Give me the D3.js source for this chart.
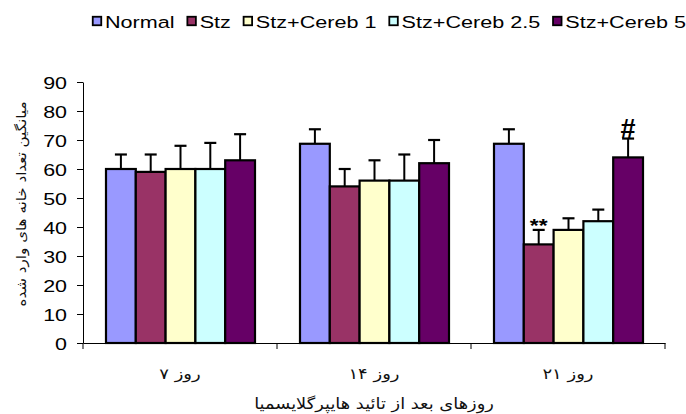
<!DOCTYPE html>
<html>
<head>
<meta charset="utf-8">
<script src="https://cdn.jsdelivr.net/npm/d3@7"></script>
<style>
  body { margin: 0; background: #fff; }
  svg { display: block; }
</style>
</head>
<body>
<div id="chart"></div>
<script>
// Data
const days = ["روز ۷", "روز ۱۴", "روز ۲۱"];
const groups = ["Normal", "Stz", "Stz+Cereb 1", "Stz+Cereb 2.5", "Stz+Cereb 5"];
const colors = ["#9999FF", "#993366", "#FFFFCC", "#CCFFFF", "#660066"];
const means = [
  [60, 59, 60, 60, 63],
  [68.7, 54, 56, 56, 62],
  [68.7, 34, 39, 42, 64]
];
const errors = [
  [5, 6, 8, 9, 9],
  [5, 6, 7, 9, 8],
  [5, 5, 4, 4, 6.5]
];
const marks = [
  { day: 2, group: 1, text: "**" },
  { day: 2, group: 4, text: "#" }
];
const yTicks = [0, 10, 20, 30, 40, 50, 60, 70, 80, 90];

const W = 686, H = 414;
const stretch = 1.3; // text in the picture is stretched sideways

const svg = d3.select("#chart")
  .append("svg")
    .attr("width", W)
    .attr("height", H);

// Scales
const x0 = d3.scaleBand()
  .domain(days)
  .range([83, 665]);
const x1 = d3.scaleBand()
  .domain(groups)
  .range([23, 172]);
const y = d3.scaleLinear()
  .domain([0, 90])
  .range([343, 82]);

// Helper for stretched text
function stretchedText(sel, tx, ty, sx) {
  return sel.attr("transform", `translate(${tx},${ty}) scale(${sx},1)`);
}

// Bars
const data = [];
days.forEach((d, i) => groups.forEach((g, j) => {
  data.push({ day: d, group: g, value: means[i][j], err: errors[i][j], color: colors[j] });
}));

const bars = svg.append("g")
  .selectAll("g")
  .data(data)
  .join("g")
    .attr("transform", d => `translate(${x0(d.day) + x1(d.group)},0)`);

bars.append("rect")
  .attr("x", 0)
  .attr("y", d => y(d.value))
  .attr("width", x1.bandwidth())
  .attr("height", d => y(0) - y(d.value))
  .attr("fill", d => d.color)
  .attr("stroke", "#000")
  .attr("stroke-width", 2.2);

// Error bars (upper only)
bars.append("line")
  .attr("x1", x1.bandwidth() / 2)
  .attr("x2", x1.bandwidth() / 2)
  .attr("y1", d => y(d.value))
  .attr("y2", d => y(d.value + d.err))
  .attr("stroke", "#000")
  .attr("stroke-width", 2);
bars.append("line")
  .attr("x1", x1.bandwidth() / 2 - 6)
  .attr("x2", x1.bandwidth() / 2 + 6)
  .attr("y1", d => y(d.value + d.err))
  .attr("y2", d => y(d.value + d.err))
  .attr("stroke", "#000")
  .attr("stroke-width", 2.2);

// Significance marks
marks.forEach(m => {
  const d = data[m.day * groups.length + m.group];
  const cx = x0(d.day) + x1(d.group) + x1.bandwidth() / 2;
  const isHash = m.text === "#";
  svg.append("text")
    .text(m.text)
    .attr("text-anchor", "middle")
    .style("font-family", "'Liberation Sans', Arial, sans-serif")
    .style("font-weight", "bold")
    .style("font-size", isHash ? "27px" : "19px")
    .call(stretchedText, cx, isHash ? y(d.value + d.err) - 1 : y(d.value + d.err) + 2, isHash ? 1.0 : 1.2);
});

// Y axis
const yAxis = svg.append("g")
  .attr("transform", "translate(83,0)")
  .call(d3.axisLeft(y).tickValues(yTicks).tickSize(6).tickSizeOuter(0).tickPadding(0));
yAxis.select(".domain").attr("stroke", "#000");
yAxis.selectAll(".tick line").attr("stroke", "#000");
yAxis.selectAll(".tick text")
  .attr("x", 0).attr("dy", null).attr("y", 0)
  .attr("text-anchor", "end")
  .style("font-family", "'Liberation Sans', Arial, sans-serif")
  .style("font-size", "16.5px")
  .attr("fill", "#000")
  .attr("transform", `translate(-16,6) scale(${stretch},1)`);

// X axis
const xAxis = svg.append("g")
  .attr("transform", `translate(0,${y(0)})`)
  .call(d3.axisBottom(x0).tickSize(0).tickSizeOuter(0).tickFormat(""));
xAxis.select(".domain").attr("stroke", "#000");
xAxis.selectAll(".tick").remove();
const boundaries = [x0.range()[0]].concat(days.map(d => x0(d) + x0.bandwidth()));
xAxis.selectAll("line.sep")
  .data(boundaries)
  .join("line")
    .attr("class", "sep")
    .attr("x1", d => d).attr("x2", d => d)
    .attr("y1", 0).attr("y2", 6)
    .attr("stroke", "#000");

// Category labels
svg.append("g")
  .selectAll("text")
  .data(days)
  .join("text")
    .text(d => d)
    .attr("text-anchor", "middle")
    .style("font-family", "'DejaVu Sans', sans-serif")
    .style("font-size", "15px")
    .attr("fill", "#111")
    .each(function(d) {
      d3.select(this).call(stretchedText, x0(d) + x0.bandwidth() / 2, 379, 1.2);
    });

// Axis titles
svg.append("text")
  .text("روزهای بعد از تائید هایپرگلایسمیا")
  .attr("text-anchor", "middle")
  .style("font-family", "'DejaVu Sans', sans-serif")
  .style("font-size", "15.5px")
  .attr("fill", "#111")
  .call(stretchedText, 374, 409, 1.15);

svg.append("text")
  .text("میانگین  تعداد خانه های وارد شده")
  .attr("text-anchor", "middle")
  .style("font-family", "'DejaVu Sans', sans-serif")
  .style("font-size", "13.5px")
  .attr("fill", "#111")
  .attr("transform", "translate(26,204) rotate(-90) scale(1.12,1)");

// Legend
const legend = svg.append("g").attr("transform", "translate(92,0)");
let lx = 0;
groups.forEach((g, j) => {
  legend.append("rect")
    .attr("x", lx + 0.75)
    .attr("y", 16.75)
    .attr("width", 8.5)
    .attr("height", 8.5)
    .attr("fill", colors[j])
    .attr("stroke", "#000")
    .attr("stroke-width", 1.8);
  const t = legend.append("text")
    .text(g)
    .style("font-family", "'Liberation Sans', Arial, sans-serif")
    .style("font-size", "16.5px")
    .attr("fill", "#000")
    .call(stretchedText, lx + 13, 27.5, 1.31);
  lx += 13 + t.node().getComputedTextLength() * 1.31 + 12;
});
</script>
</body>
</html>
